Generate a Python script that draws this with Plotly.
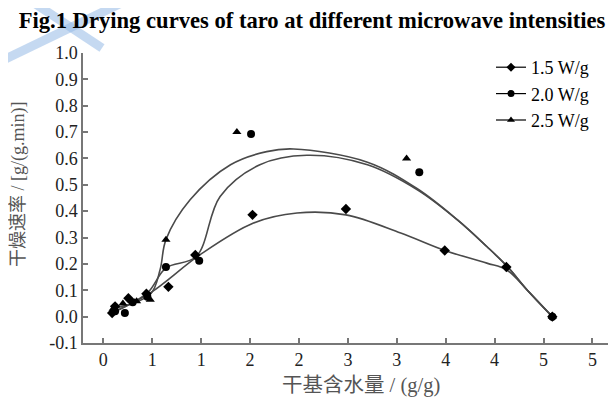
import plotly.graph_objects as go

# ---- data ----
series_names = ["1.5 W/g", "2.0 W/g", "2.5 W/g"]
series_symbols = ["diamond", "circle", "triangle-up"]

# measured points
x_15 = [0.09, 0.12, 0.256, 0.44, 0.665, 0.94, 1.525, 2.48, 3.49, 4.12, 4.59]
y_15 = [0.014, 0.039, 0.070, 0.087, 0.113, 0.234, 0.386, 0.408, 0.251, 0.188, 0.0]
x_20 = [0.12, 0.22, 0.30, 0.45, 0.64, 0.98, 1.51, 3.23, 4.59]
y_20 = [0.020, 0.014, 0.055, 0.075, 0.188, 0.212, 0.693, 0.548, 0.0]
x_25 = [0.10, 0.20, 0.34, 0.48, 0.64, 1.365, 3.10, 4.59]
y_25 = [0.030, 0.050, 0.058, 0.064, 0.292, 0.700, 0.600, 0.0]

# fitted curves
cx_15 = [0.09, 0.48, 0.99, 1.535, 1.98, 2.48, 3.04, 3.49, 3.92, 4.12, 4.33, 4.59]
cy_15 = [0.014, 0.090, 0.235, 0.355, 0.393, 0.386, 0.317, 0.251, 0.203, 0.178, 0.102, 0.0]
cx_20 = [0.12, 0.45, 0.64, 0.95, 1.194, 1.60, 2.08, 2.70, 3.21, 3.62, 3.92, 4.13, 4.33, 4.59]
cy_20 = [0.020, 0.090, 0.185, 0.228, 0.456, 0.576, 0.612, 0.576, 0.481, 0.367, 0.266, 0.190, 0.102, 0.0]
cx_25 = [0.10, 0.48, 0.58, 0.64, 0.887, 1.30, 1.67, 1.945, 2.70, 3.21, 3.62, 3.92, 4.13, 4.33, 4.59]
cy_25 = [0.030, 0.085, 0.178, 0.292, 0.443, 0.576, 0.626, 0.636, 0.586, 0.485, 0.367, 0.266, 0.190, 0.102, 0.0]

x_tickvals = [0, 0.5, 1, 1.5, 2, 2.5, 3, 3.5, 4, 4.5, 5]
x_ticktext = ["0", "1", "1", "2", "2", "3", "3", "4", "4", "5", "5"]
y_tickvals = [-0.1, 0.0, 0.1, 0.2, 0.3, 0.4, 0.5, 0.6, 0.7, 0.8, 0.9, 1.0]
y_ticktext = ["-0.1", "0.0", "0.1", "0.2", "0.3", "0.4", "0.5", "0.6", "0.7", "0.8", "0.9", "1.0"]

points = [(x_15, y_15), (x_20, y_20), (x_25, y_25)]
curves = [(cx_15, cy_15), (cx_20, cy_20), (cx_25, cy_25)]

FONT = "Liberation Serif, Times New Roman, serif"
MIXED = "Liberation Serif, Noto Sans CJK SC, serif"
CURVE_COLOR = "#4a4a4a"

# the page body has an 8px margin; the figure is sized/offset to fit the window
OFF = 8
W, H = 616 - OFF, 409 - OFF
ML, MR, MT, MB = 83 - OFF, 4, 53 - OFF, 409 - 343
PW, PH = W - ML - MR, H - MT - MB


def px2paper(px, py):
    fx, fy = px - OFF, py - OFF
    return (fx - ML) / PW, (H - MB - fy) / PH


fig = go.Figure()
for (cx, cy) in curves:
    fig.add_trace(go.Scatter(x=cx, y=cy, mode="lines",
                             line=dict(color=CURVE_COLOR, width=1.6, shape="spline", smoothing=1.0),
                             showlegend=False, hoverinfo="skip"))
for (px, py), sym in zip(points, series_symbols):
    fig.add_trace(go.Scatter(x=px, y=py, mode="markers",
                             marker=dict(symbol=sym, size=8, color="black"),
                             showlegend=False))
for name, sym in zip(series_names, series_symbols):
    fig.add_trace(go.Scatter(x=[None], y=[None], mode="lines+markers", name=name,
                             marker=dict(symbol=sym, size=7, color="black"),
                             line=dict(color="black", width=1.2)))

axis_common = dict(showline=True, linecolor="#777777", linewidth=1.5, ticks="inside",
                   tickcolor="#777777", ticklen=5, tickwidth=1.5, showgrid=False,
                   zeroline=False, mirror=False, automargin=False,
                   tickfont=dict(family=FONT, size=18, color="#222222"))

# faint watermark strokes in the background
wm_color = "rgba(150,185,230,0.55)"
shapes = []
for (x0, y0, x1, y1) in [(22, -5, 102, 48), (138, -5, -5, 64)]:
    a0, b0 = px2paper(x0, y0)
    a1, b1 = px2paper(x1, y1)
    shapes.append(dict(type="line", xref="paper", yref="paper", x0=a0, y0=b0, x1=a1, y1=b1,
                       line=dict(color=wm_color, width=9), layer="below"))
a0, b0 = px2paper(0, 157)
a1, b1 = px2paper(8, 176)
shapes.append(dict(type="rect", xref="paper", yref="paper", x0=a0, y0=b0, x1=a1, y1=b1,
                   fillcolor=wm_color, line=dict(width=0), layer="below"))

ytx, yty = px2paper(18, 185)
xtx, xty = px2paper(361, 385)
lgx, lgy = px2paper(491, 49)

fig.update_layout(
    width=W, height=H,
    margin=dict(l=ML, r=MR, t=MT, b=MB, autoexpand=False),
    paper_bgcolor="white", plot_bgcolor="rgba(0,0,0,0)",
    title=dict(text="<b>Fig.1 Drying curves of taro at different microwave intensities</b>",
               x=0.5, xanchor="center", y=1 - (20 - OFF) / H, yanchor="middle",
               font=dict(family=FONT, size=22.6, color="black")),
    xaxis=dict(range=[-0.208, 5.2], tickvals=x_tickvals, ticktext=x_ticktext,
               **axis_common),
    yaxis=dict(range=[-0.1, 1.0], tickvals=y_tickvals, ticktext=y_ticktext,
               **axis_common),
    annotations=[
        dict(text="干燥速率 / [g/(g.min)]", textangle=-90, xref="paper", yref="paper",
             x=ytx, y=yty, xanchor="center", yanchor="middle", showarrow=False,
             font=dict(family=MIXED, size=18, color="#555555")),
        dict(text="干基含水量 / (g/g)", xref="paper", yref="paper",
             x=xtx, y=xty, xanchor="center", yanchor="middle", showarrow=False,
             font=dict(family=MIXED, size=20.5, color="#555555")),
    ],
    legend=dict(x=lgx, y=lgy, xanchor="left", yanchor="top",
                font=dict(family=FONT, size=18, color="black"),
                bgcolor="rgba(0,0,0,0)", itemwidth=30, tracegroupgap=0),
    showlegend=True,
    shapes=shapes,
)

fig.write_html("out.html")
